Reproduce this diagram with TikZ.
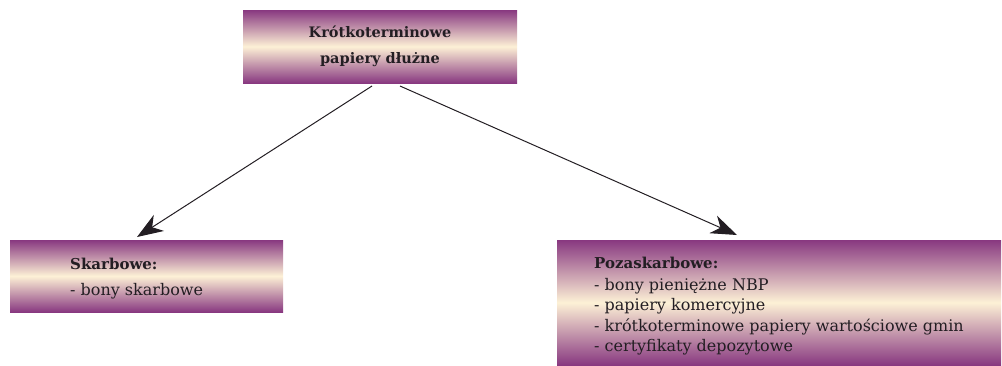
\documentclass[tikz,border=0pt]{standalone}
\usepackage{fontspec}
\setmainfont{DejaVu Serif}
\usetikzlibrary{arrows.meta}
\definecolor{plum}{RGB}{136,56,128}
\definecolor{cream}{RGB}{253,241,214}
\definecolor{ink}{RGB}{35,30,35}
\begin{document}
\begin{tikzpicture}[x=1pt,y=-1pt,
  box/.style={draw=none,inner sep=0pt,outer sep=0pt,top color=plum,bottom color=plum,middle color=cream},
  ttl/.style={font=\bfseries\fontsize{14.5}{28}\selectfont,text=ink,align=center,inner sep=0pt},
  hd/.style={font=\bfseries\fontsize{15}{20}\selectfont,text=ink,anchor=base west,inner sep=0pt},
  ln/.style={font=\fontsize{16}{20}\selectfont,text=ink,anchor=base west,inner sep=0pt},
  conn/.style={draw=ink,line width=1pt,-{Stealth[length=26pt,width=19pt,inset=8pt]}}]
\useasboundingbox (0,0) rectangle (1002,365);
% boxes
\node[box,minimum width=274pt,minimum height=73pt] (top) at (380,46.5) {};
\node[box,minimum width=273pt,minimum height=72pt] (left) at (146.5,276) {};
\node[box,minimum width=444pt,minimum height=125pt] (right) at (779,302.5) {};
% texts
\node[ttl] (t1) at (380,32) {Krótkoterminowe};
\node[ttl] (t2) at (380,60) {papiery dłużne};
\node[hd] (l1) at (70,269) {Skarbowe:};
\node[ln] (l2) at (70,295) {- bony skarbowe};
\node[hd] (r1) at (594,268) {Pozaskarbowe:};
\node[ln] (r2) at (594,290) {- bony pieniężne NBP};
\node[ln] (r3) at (594,310.5) {- papiery komercyjne};
\node[ln] (r4) at (594,331) {- krótkoterminowe papiery wartościowe gmin};
\node[ln] (r5) at (594,351) {- certyfikaty depozytowe};
% connectors
\coordinate (s1) at (372,86);
\coordinate (s2) at (400,86);
\coordinate (e1) at (137,237);
\coordinate (e2) at (737,235);
\draw[conn] (s1) -- (e1);
\draw[conn] (s2) -- (e2);
\end{tikzpicture}
\end{document}
